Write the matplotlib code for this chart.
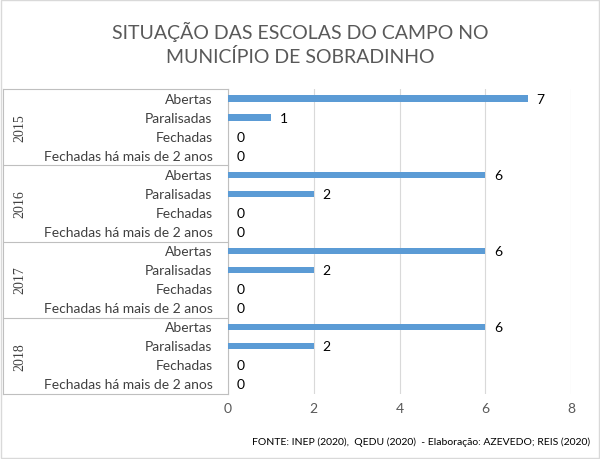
import matplotlib
matplotlib.use("Agg")
import matplotlib.pyplot as plt
from matplotlib.lines import Line2D
from matplotlib.patches import Rectangle

years = ["2015", "2016", "2017", "2018"]
categories = ["Abertas", "Paralisadas", "Fechadas", "Fechadas há mais de 2 anos"]
values = {
    "2015": [7, 1, 0, 0],
    "2016": [6, 2, 0, 0],
    "2017": [6, 2, 0, 0],
    "2018": [6, 2, 0, 0],
}
xticks = [0, 2, 4, 6, 8]

font = "Lato"
W, H = 600, 460
fig = plt.figure(figsize=(6, 4.6), dpi=100)
L, R, T, B = 228, 571, 90, 395
ax = fig.add_axes([L / W, 1 - B / H, (R - L) / W, (B - T) / H])

n = len(years) * len(categories)
ypos, vals = [], []
i = 0
for y in years:
    for v in values[y]:
        ypos.append(i)
        vals.append(v)
        i += 1
ax.barh(ypos, vals, height=0.33, color="#5B9BD5", zorder=3)
for yp, v in zip(ypos, vals):
    ax.text(v + 0.2, yp, str(v), va="center", ha="left", fontsize=10,
            color="#000000", family=font)
ax.set_ylim(n - 0.5, -0.5)
ax.set_xlim(0, 8)
ax.set_xticks(xticks)
ax.tick_params(axis="x", length=0, labelsize=10, colors="#595959", pad=6)
for lab in ax.get_xticklabels():
    lab.set_family(font)
ax.set_yticks([])
ax.grid(axis="x", color="#D9D9D9", lw=0.8, zorder=0)
for s in ["top", "right", "bottom"]:
    ax.spines[s].set_visible(False)
ax.spines["left"].set_color("#BFBFBF")

for yp in ypos:
    cat = categories[yp % len(categories)]
    ax.text(-0.045, yp, cat, transform=ax.get_yaxis_transform(), ha="right",
            va="center", fontsize=10, color="#404040", family=font)
row_h = (B - T) / n
for g in range(len(years) + 1):
    yy = 1 - (T + g * len(categories) * row_h) / H
    fig.add_artist(Line2D([3 / W, L / W], [yy, yy], color="#BFBFBF", lw=0.8))
fig.add_artist(Line2D([3 / W, 3 / W], [1 - B / H, 1 - T / H], color="#BFBFBF", lw=0.8))
for g, y in enumerate(years):
    yc = 1 - (T + (g + 0.5) * len(categories) * row_h) / H
    fig.text(20 / W, yc, y, rotation=90, ha="center", va="center",
             fontsize=10, color="#404040", family="Liberation Serif")

fig.text(0.5, 1 - 32 / H, "SITUAÇÃO DAS ESCOLAS DO CAMPO NO", ha="center",
         va="center", fontsize=14, color="#595959", family=font)
fig.text(0.5, 1 - 57 / H, "MUNICÍPIO DE SOBRADINHO", ha="center",
         va="center", fontsize=14, color="#595959", family=font)
fig.text(590 / W, 1 - 442 / H,
         "FONTE: INEP (2020),  QEDU (2020)  - Elaboração: AZEVEDO; REIS (2020)",
         ha="right", va="center", fontsize=7.5, color="#000000", family=font)
fig.add_artist(Rectangle((0.002, 0.002), 0.996, 0.996, transform=fig.transFigure,
                         fill=False, ec="#D9D9D9", lw=1))
fig.savefig("out.png", dpi=100)
